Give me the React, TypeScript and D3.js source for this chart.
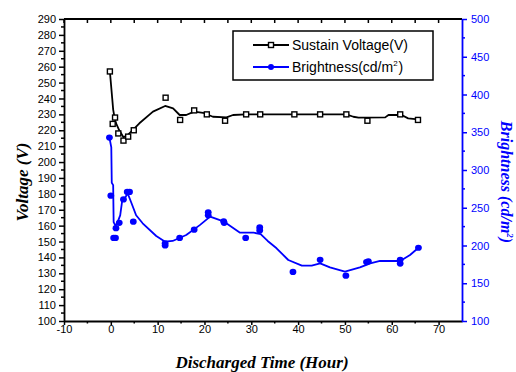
import * as d3 from 'd3';
import React, { useEffect, useRef } from 'react';

// sustain voltage markers (left axis)
const voltTime = [-0.2, 0.4, 0.9, 1.6, 2.7, 3.7, 4.9, 11.7, 14.8, 17.8, 20.5, 24.4, 28.9, 31.9, 39.2, 44.7, 50.3, 54.8, 61.8, 65.6];
const voltValue = [257, 224, 228, 218, 213.5, 216, 220, 240.5, 226.5, 232.5, 230, 226, 230, 230, 230, 230, 230, 226, 230, 226.5];

// smoothed voltage curve
const voltLineTime = [-0.2, 0.3, 0.5, 0.8, 1.1, 1.8, 2.7, 3.6, 6.1, 9.0, 11.6, 13.3, 14.7, 16.1, 17.8, 19.7, 21.8, 24.7, 26.1, 28.9, 50.3, 51.8, 52.9, 58.6, 59.3, 62.1, 63.5, 65.6];
const voltLineValue = [257, 240, 233, 228, 224.5, 220, 215.6, 217, 224.4, 231.7, 235.3, 233.8, 229.6, 229.6, 231.7, 231, 228.5, 228.1, 229.6, 230, 230, 228.5, 228, 228.1, 229.6, 229.6, 227.5, 226.9];

// brightness markers (right axis)
const brightTime = [-0.3, 0.0, 0.6, 1.0, 1.1, 1.8, 2.7, 3.5, 4.0, 4.8, 11.6, 11.6, 14.7, 17.8, 20.8, 20.8, 24.1, 24.2, 28.8, 31.8, 31.8, 38.9, 44.7, 50.2, 54.6, 55.0, 61.8, 61.8, 65.7];
const brightValue = [343, 266, 210, 210, 223, 230, 261, 271, 271, 231.5, 200, 203, 210, 221, 240, 244, 232, 230, 210, 220, 224, 165, 181, 160, 178, 179, 176, 181, 197];

// smoothed brightness curve
const brightLineTime = [-0.3, 0.1, 0.2, 0.5, 0.6, 1.0, 1.5, 2.0, 2.4, 2.9, 3.6, 4.3, 5.4, 6.8, 9.7, 11.6, 13.2, 16.1, 19.0, 21.2, 24.2, 27.6, 30.5, 32.0, 33.5, 35.4, 37.9, 40.8, 42.9, 44.7, 46.8, 50.0, 53.2, 55.4, 57.5, 61.8, 63.9, 65.7];
const brightLineValue = [343, 330, 283, 280, 231, 226, 232, 240, 258, 262, 269, 258, 240, 229.4, 212.6, 205, 206, 213.9, 227, 238.2, 231.5, 217, 217, 215, 206, 196.3, 180.8, 173.3, 173.3, 176.4, 171, 165.3, 171, 176.4, 179.5, 179.5, 187.4, 197];

const xTicks = [-10, 0, 10, 20, 30, 40, 50, 60, 70];
const leftTicks = d3.range(100, 291, 10);
const rightTicks = [100, 150, 200, 250, 300, 350, 400, 450, 500];
const legendLabels = ['Sustain Voltage(V)', 'Brightness(cd/m'];

const BLUE = '#0000ff';
const TICK_FONT = 'Arial, "Liberation Sans", sans-serif';
const TITLE_FONT = '"Times New Roman", "Liberation Serif", serif';

export default function App() {
  const svgRef = useRef<SVGSVGElement>(null);
  const width = 516;
  const height = 372;

  useEffect(() => {
    const svg = d3.select(svgRef.current);
    svg.selectAll('*').remove();

    const left = 64;
    const right = 462;
    const top = 19;
    const bottom = 321;

    const x = d3.scaleLinear().domain([-10, 75]).range([left, right]);
    const yL = d3.scaleLinear().domain([100, 290]).range([bottom, top]);
    const yR = d3.scaleLinear().domain([100, 500]).range([bottom, top]);

    // top frame with inward ticks
    svg.append('line')
      .attr('x1', left).attr('x2', right).attr('y1', top).attr('y2', top)
      .attr('stroke', 'black').attr('stroke-width', 1.8);
    svg.append('g').selectAll('line')
      .data(d3.range(-10, 75, 5))
      .join('line')
      .attr('x1', (d) => x(d)).attr('x2', (d) => x(d))
      .attr('y1', top).attr('y2', top + 4)
      .attr('stroke', 'black').attr('stroke-width', 1.5);

    // bottom axis
    const gx = svg.append('g')
      .attr('transform', `translate(0,${bottom})`)
      .call(d3.axisBottom(x).tickValues(xTicks).tickSize(4).tickSizeOuter(0).tickPadding(0).tickFormat((d) => String(d)));
    gx.select('.domain').attr('stroke-width', 1.8);
    gx.selectAll('.tick line').attr('stroke-width', 1.5);
    gx.selectAll('text').style('font-family', TICK_FONT).style('font-size', '11px').attr('fill', 'black');
    gx.append('g').selectAll('line')
      .data(d3.range(-5, 75, 10))
      .join('line')
      .attr('x1', (d) => x(d)).attr('x2', (d) => x(d))
      .attr('y1', 0).attr('y2', 2.5)
      .attr('stroke', 'black').attr('stroke-width', 1.5);

    // left axis
    const gl = svg.append('g')
      .attr('transform', `translate(${left},0)`)
      .call(d3.axisLeft(yL).tickValues(leftTicks).tickSize(5).tickSizeOuter(0).tickPadding(3));
    gl.select('.domain').attr('stroke-width', 1.8);
    gl.selectAll('.tick line').attr('stroke-width', 1.5);
    gl.selectAll('text').style('font-family', TICK_FONT).style('font-size', '11px').attr('fill', 'black');
    gl.append('g').selectAll('line')
      .data(d3.range(105, 290, 10))
      .join('line')
      .attr('x1', 0).attr('x2', -3)
      .attr('y1', (d) => yL(d)).attr('y2', (d) => yL(d))
      .attr('stroke', 'black').attr('stroke-width', 1.5);

    // right axis (blue)
    const gr = svg.append('g')
      .attr('transform', `translate(${right},0)`)
      .call(d3.axisRight(yR).tickValues(rightTicks).tickSize(5).tickSizeOuter(0).tickPadding(4));
    gr.select('.domain').attr('stroke', BLUE).attr('stroke-width', 1.8);
    gr.selectAll('.tick line').attr('stroke', BLUE).attr('stroke-width', 1.5);
    gr.selectAll('text').style('font-family', TICK_FONT).style('font-size', '11px').attr('fill', BLUE);
    gr.append('g').selectAll('line')
      .data(d3.range(125, 500, 50))
      .join('line')
      .attr('x1', 0).attr('x2', 3)
      .attr('y1', (d) => yR(d)).attr('y2', (d) => yR(d))
      .attr('stroke', BLUE).attr('stroke-width', 1.5);

    // voltage curve and markers
    const voltLine = d3.line<number>()
      .x((d) => x(d))
      .y((_, i) => yL(voltLineValue[i]));
    svg.append('path')
      .attr('d', voltLine(voltLineTime))
      .attr('fill', 'none').attr('stroke', 'black').attr('stroke-width', 1.8)
      .attr('stroke-linejoin', 'round');
    svg.append('g').selectAll('rect')
      .data(voltTime)
      .join('rect')
      .attr('x', (d) => x(d) - 2.5)
      .attr('y', (_, i) => yL(voltValue[i]) - 2.5)
      .attr('width', 5).attr('height', 5)
      .attr('fill', 'white').attr('stroke', 'black').attr('stroke-width', 1.4);

    // brightness curve and markers
    const brightLine = d3.line<number>()
      .x((d) => x(d))
      .y((_, i) => yR(brightLineValue[i]));
    svg.append('path')
      .attr('d', brightLine(brightLineTime))
      .attr('fill', 'none').attr('stroke', BLUE).attr('stroke-width', 1.8)
      .attr('stroke-linejoin', 'round');
    svg.append('g').selectAll('ellipse')
      .data(brightTime)
      .join('ellipse')
      .attr('cx', (d) => x(d))
      .attr('cy', (_, i) => yR(brightValue[i]))
      .attr('rx', 3.4).attr('ry', 3.1)
      .attr('fill', BLUE);

    // legend
    const lg = svg.append('g');
    lg.append('rect')
      .attr('x', 233).attr('y', 31).attr('width', 200).attr('height', 49)
      .attr('fill', 'white').attr('stroke', 'black').attr('stroke-width', 1.5);
    const rows = [0, 1];
    rows.forEach((r) => {
      const cy = 45 + r * 22;
      const color = r === 0 ? 'black' : BLUE;
      lg.append('line')
        .attr('x1', 253).attr('x2', 289).attr('y1', cy).attr('y2', cy)
        .attr('stroke', color).attr('stroke-width', 1.8);
      if (r === 0) {
        lg.append('rect')
          .attr('x', 268.5).attr('y', cy - 2.5).attr('width', 5).attr('height', 5)
          .attr('fill', 'white').attr('stroke', 'black').attr('stroke-width', 1.4);
      } else {
        lg.append('circle').attr('cx', 271).attr('cy', cy).attr('r', 3).attr('fill', BLUE);
      }
      const t = lg.append('text')
        .attr('x', 292).attr('y', cy + 5)
        .style('font-family', TICK_FONT).style('font-size', '14px')
        .attr('fill', 'black')
        .text(legendLabels[r]);
      if (r === 1) {
        t.append('tspan').attr('dy', -6).style('font-size', '8px').text('2');
        t.append('tspan').attr('dy', 6).attr('dx', 1).text(')');
      }
    });

    // axis titles
    svg.append('text')
      .attr('transform', `translate(28,182) rotate(-90)`)
      .attr('text-anchor', 'middle')
      .style('font-family', TITLE_FONT).style('font-size', '17px')
      .style('font-weight', 'bold').style('font-style', 'italic')
      .text('Voltage (V)');

    const rt = svg.append('text')
      .attr('transform', `translate(501,182) rotate(90)`)
      .attr('text-anchor', 'middle')
      .style('font-family', TITLE_FONT).style('font-size', '16px')
      .style('font-weight', 'bold').style('font-style', 'italic')
      .attr('fill', BLUE)
      .text('Brightness  (cd/m');
    rt.append('tspan').attr('dy', -6).style('font-size', '9px').text('2');
    rt.append('tspan').attr('dy', 6).text(')');

    svg.append('text')
      .attr('x', 262).attr('y', 368)
      .attr('text-anchor', 'middle')
      .style('font-family', TITLE_FONT).style('font-size', '17px')
      .style('font-weight', 'bold').style('font-style', 'italic')
      .text('Discharged Time (Hour)');
  }, []);

  return (
    <svg
      ref={svgRef}
      width={width}
      height={height}
      style={{ position: 'absolute', left: 0, top: 0, background: 'white' }}
    />
  );
}
